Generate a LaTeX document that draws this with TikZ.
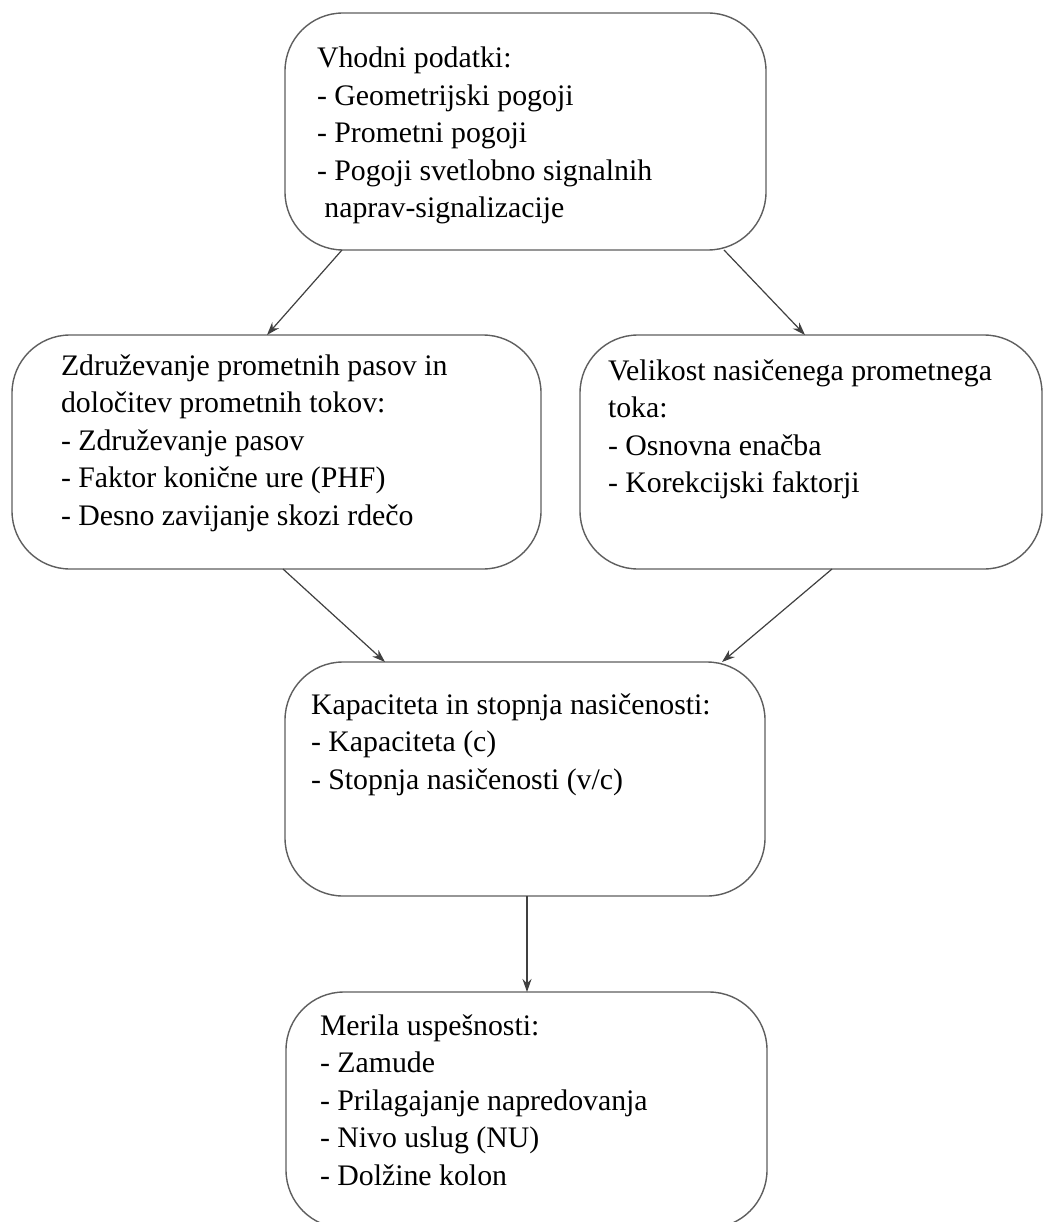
\documentclass[tikz,border=0pt]{standalone}
\usepackage{fontspec}
\setmainfont{Liberation Serif}
\usetikzlibrary{arrows.meta}
\definecolor{boxgray}{HTML}{5E5E5E}
\definecolor{arrgray}{HTML}{404040}
\begin{document}
\begin{tikzpicture}[x=1pt,y=-1pt,
  box/.style={draw=boxgray, line width=1.4pt, rounded corners=58pt, inner sep=0pt, outer sep=0pt},
  txt/.style={anchor=north west, inner sep=0pt, outer sep=0pt, align=left,
    font=\fontsize{29.8pt}{37.5pt}\selectfont, text=black},
  arr/.style={draw=arrgray, line width=1.2pt, -{Stealth[length=13pt,width=9pt]}}]
\useasboundingbox (0,0) rectangle (1047,1222);
\fill[white] (0,0) rectangle (1047,1222);
\clip (0,0) rectangle (1047,1222);

\node[box, minimum width=481pt, minimum height=237pt] (b1) at (525.5,131.5) {};
\node[box, minimum width=529pt, minimum height=234pt] (b2) at (276.5,452) {};
\node[box, minimum width=462pt, minimum height=234pt] (b3) at (811,452) {};
\node[box, minimum width=480pt, minimum height=234pt] (b4) at (525,779) {};
\node[box, minimum width=481pt, minimum height=236pt] (b5) at (526.5,1110) {};

\node[txt] (t1) at (317,41.75) {\strut Vhodni podatki:\\- Geometrijski pogoji\\- Prometni pogoji\\- Pogoji svetlobno signalnih\\\hspace*{0.25em}naprav-signalizacije};
\node[txt] (t2) at (61,348.75) {\strut Združevanje prometnih pasov in\\določitev prometnih tokov:\\- Združevanje pasov\\- Faktor konične ure (PHF)\\- Desno zavijanje skozi rdečo};
\node[txt] (t3) at (608,353.75) {\strut Velikost nasičenega prometnega\\toka:\\- Osnovna enačba\\- Korekcijski faktorji};
\node[txt] (t4) at (311,687.75) {\strut Kapaciteta in stopnja nasičenosti:\\- Kapaciteta (c)\\- Stopnja nasičenosti (v/c)};
\node[txt] (t5) at (320,1008.75) {\strut Merila uspešnosti:\\- Zamude\\- Prilagajanje napredovanja\\- Nivo uslug (NU)\\- Dolžine kolon};

\draw[arr] ([xshift=57pt]b1.south west) -- ([xshift=255pt]b2.north west);
\draw[arr] ([xshift=-42pt]b1.south east) -- ([xshift=225pt]b3.north west);
\draw[arr] ([xshift=271pt]b2.south west) -- ([xshift=100pt]b4.north west);
\draw[arr] ([xshift=252pt]b3.south west) -- ([xshift=-43pt]b4.north east);
\draw[arr] ([xshift=2pt]b4.south) -- ([xshift=2pt]b4.south |- b5.north);
\end{tikzpicture}
\end{document}
